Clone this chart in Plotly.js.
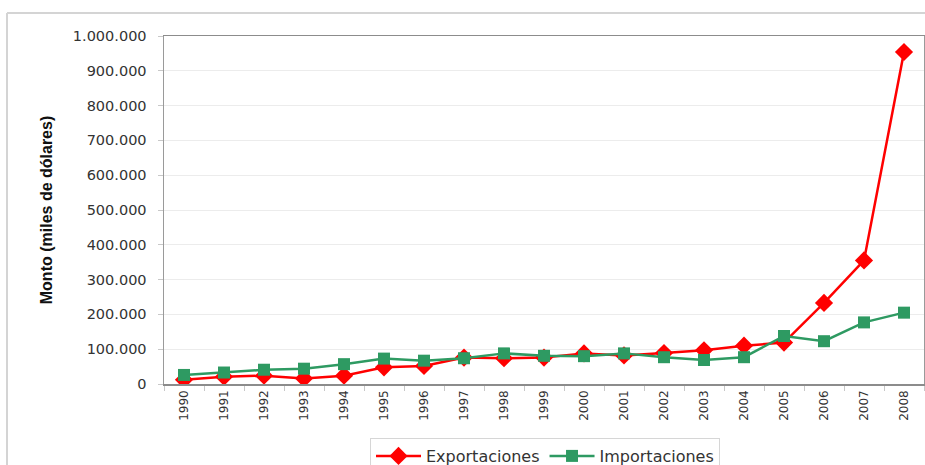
<!DOCTYPE html>
<html>
<head>
<meta charset="utf-8">
<script src="https://cdn.plot.ly/plotly-3.0.1.min.js"></script>
<style>
  html, body { margin: 0; padding: 0; background: #ffffff; }
  #chart { width: 925px; height: 465px; }
</style>
</head>
<body>
<div id="chart"></div>
<script>
// Años del periodo analizado
const years = ['1990','1991','1992','1993','1994','1995','1996','1997','1998','1999',
               '2000','2001','2002','2003','2004','2005','2006','2007','2008'];

// Montos en miles de dólares
const exportaciones = [12000, 21000, 24000, 16000, 24000, 48000, 52000, 76000, 74000, 76000,
                       88000, 82000, 89000, 97000, 110000, 119000, 233000, 355000, 954000];
const importaciones = [26000, 33000, 41000, 44000, 57000, 73000, 67000, 74000, 88000, 81000,
                       80000, 88000, 77000, 69000, 77000, 138000, 123000, 177000, 205000];

const yTicks = [0, 100000, 200000, 300000, 400000, 500000, 600000, 700000, 800000, 900000, 1000000];

const font = 'DejaVu Sans, Liberation Sans, Arial, sans-serif';

const traces = [
  {
    x: years, y: exportaciones, name: 'Exportaciones',
    type: 'scatter', mode: 'lines+markers',
    line: { color: '#ff0000', width: 2.5 },
    marker: { symbol: 'diamond', size: 14, color: '#ff0000' }
  },
  {
    x: years, y: importaciones, name: 'Importaciones',
    type: 'scatter', mode: 'lines+markers',
    line: { color: '#2e9a62', width: 2.5 },
    marker: { symbol: 'square', size: 12, color: '#2e9a62' }
  }
];

// Marco exterior del gráfico (coordenadas en píxeles convertidas a papel)
const L = 164, R = 1, T = 36, B = 81, W = 925, H = 465;
const pw = W - L - R, ph = H - T - B;
const px = v => (v - L) / pw;
const py = v => 1 - (v - T) / ph;

const layout = {
  width: W, height: H,
  margin: { l: L, r: R, t: T, b: B, pad: 0, autoexpand: false },
  paper_bgcolor: '#ffffff', plot_bgcolor: '#ffffff',
  separators: ',.',
  font: { family: font, color: '#333333' },
  showlegend: true,
  legend: {
    orientation: 'h', x: px(545), xanchor: 'center',
    yref: 'container', y: 1 - 438 / H, yanchor: 'top',
    bordercolor: '#d6d6d6', borderwidth: 1, bgcolor: '#ffffff',
    font: { family: font, size: 16, color: '#333333' },
    itemwidth: 45, tracegroupgap: 0
  },
  xaxis: {
    type: 'category', tickson: 'boundaries',
    range: [-0.5, years.length - 0.5],
    showline: true, linecolor: '#8c8c8c', linewidth: 1.5, mirror: true,
    ticks: 'outside', ticklen: 5, tickcolor: '#c8c8c8',
    tickangle: -90, tickfont: { family: font, size: 12, color: '#333333' },
    showgrid: false, zeroline: false, fixedrange: true, automargin: false
  },
  yaxis: {
    range: [0, 1000000], tickvals: yTicks, tickformat: ',d',
    showline: true, linecolor: '#9a9a9a', linewidth: 1.5, mirror: true,
    ticks: 'outside', ticklen: 5, tickcolor: '#c8c8c8',
    ticklabelstandoff: 8, automargin: false,
    tickfont: { family: font, size: 14.5, color: '#333333' },
    showgrid: true, gridcolor: '#ececec', gridwidth: 1,
    zeroline: false, fixedrange: true,
    title: {
      text: 'Monto (miles de dólares)', standoff: 16,
      font: { family: 'Liberation Sans Narrow, Arial Narrow, Liberation Sans, sans-serif', size: 16, color: '#111111', weight: 'bold' }
    }
  },
  shapes: [
    { type: 'line', xref: 'paper', yref: 'paper', x0: px(7), x1: px(7), y0: py(13), y1: py(465),
      line: { color: '#d4d4d4', width: 2 } },
    { type: 'line', xref: 'paper', yref: 'paper', x0: px(7), x1: px(926), y0: py(13), y1: py(13),
      line: { color: '#d4d4d4', width: 2 } }
  ]
};

Plotly.newPlot('chart', traces, layout, { displayModeBar: false, staticPlot: true });
</script>
</body>
</html>
